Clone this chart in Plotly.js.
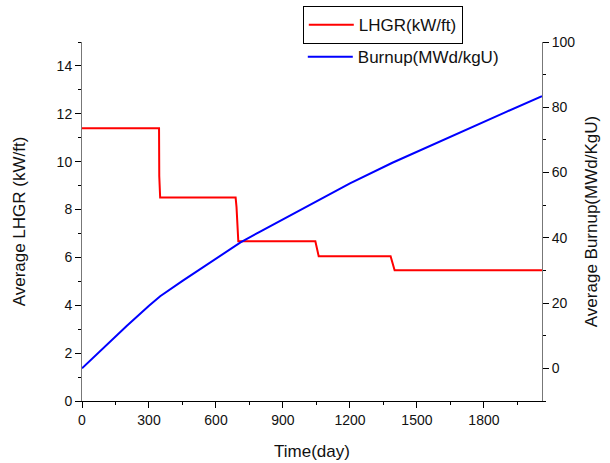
<!DOCTYPE html>
<html>
<head>
<meta charset="utf-8">
<script src="https://cdn.plot.ly/plotly-3.0.1.min.js"></script>
<style>html,body{margin:0;padding:0;background:#fff;}#chart{width:610px;height:463px;}</style>
</head>
<body>
<div id="chart"></div>
<script>
// LHGR (kW/ft) step history
const lhgrDays = [0, 345, 346, 350, 688, 692, 700, 1045, 1060, 1382, 1400, 2060];
const lhgrValues = [11.4, 11.4, 9.4, 8.5, 8.5, 8.1, 6.67, 6.67, 6.05, 6.05, 5.46, 5.46];
// Burnup (MWd/kgU)
const burnupDays = [0, 100, 200, 300, 350, 450, 550, 650, 710, 800, 900, 1050, 1200, 1390, 1500, 1700, 1900, 2060];
const burnupValues = [0, 6.6, 13.0, 19.2, 22.1, 26.8, 31.3, 35.8, 38.6, 42.0, 45.7, 51.4, 56.7, 63.0, 66.4, 72.6, 78.6, 83.4];

const font = 'Arial, "Liberation Sans", sans-serif';

const traces = [
  {x: lhgrDays, y: lhgrValues, type: 'scatter', mode: 'lines', name: 'LHGR(kW/ft)',
   line: {color: '#ff0000', width: 2}, yaxis: 'y', legend: 'legend'},
  {x: burnupDays, y: burnupValues, type: 'scatter', mode: 'lines', name: 'Burnup(MWd/kgU)',
   line: {color: '#0000ff', width: 2}, yaxis: 'y2', legend: 'legend2'}
];

const layout = {
  width: 610, height: 463,
  margin: {l: 82, r: 68, t: 42, b: 62, autoexpand: false},
  paper_bgcolor: '#fff', plot_bgcolor: '#fff',
  font: {family: font, color: '#111', size: 14},
  xaxis: {
    range: [0, 2060], tick0: 0, dtick: 300, ticks: 'outside', ticklen: 6, tickwidth: 1, tickcolor: '#000',
    minor: {dtick: 150, ticks: 'outside', ticklen: 3, tickcolor: '#000'},
    showline: true, linecolor: '#000', linewidth: 1, showgrid: false, zeroline: false,
    tickfont: {family: font, size: 14, color: '#111'}, automargin: false,
    title: {text: 'Time(day)', font: {family: font, size: 17, color: '#111'}, standoff: 18}
  },
  yaxis: {
    range: [0, 15], tick0: 0, dtick: 2, ticks: 'outside', ticklen: 6, tickwidth: 1, tickcolor: '#000',
    minor: {dtick: 1, ticks: 'outside', ticklen: 3, tickcolor: '#000'},
    showline: true, linecolor: '#777', linewidth: 1, showgrid: false, zeroline: false,
    tickfont: {family: font, size: 14, color: '#111'}, automargin: false,
    title: {text: 'Average LHGR (kW/ft)', font: {family: font, size: 17, color: '#111'}, standoff: 26}
  },
  yaxis2: {
    overlaying: 'y', side: 'right', anchor: 'x',
    range: [-10, 100], tick0: 0, dtick: 20, ticks: 'outside', ticklen: 6, tickwidth: 1, tickcolor: '#000',
    minor: {dtick: 10, ticks: 'outside', ticklen: 3, tickcolor: '#000'},
    showline: true, linecolor: '#777', linewidth: 1, showgrid: false, zeroline: false,
    tickfont: {family: font, size: 14, color: '#111'}, automargin: false,
    title: {text: 'Average Burnup(MWd/KgU)', font: {family: font, size: 17, color: '#111'}, standoff: 10}
  },
  legend: {
    x: 0.48, y: 1.10, xanchor: 'left', yanchor: 'top', itemwidth: 45,
    bordercolor: '#000', borderwidth: 1, bgcolor: 'rgba(0,0,0,0)',
    font: {family: font, size: 17, color: '#111'}
  },
  legend2: {
    x: 0.48, y: 1.008, xanchor: 'left', yanchor: 'top', itemwidth: 45,
    borderwidth: 0, bgcolor: 'rgba(0,0,0,0)',
    font: {family: font, size: 17, color: '#111'}
  },
  showlegend: true
};

Plotly.newPlot('chart', traces, layout, {displayModeBar: false, staticPlot: true});
</script>
</body>
</html>
